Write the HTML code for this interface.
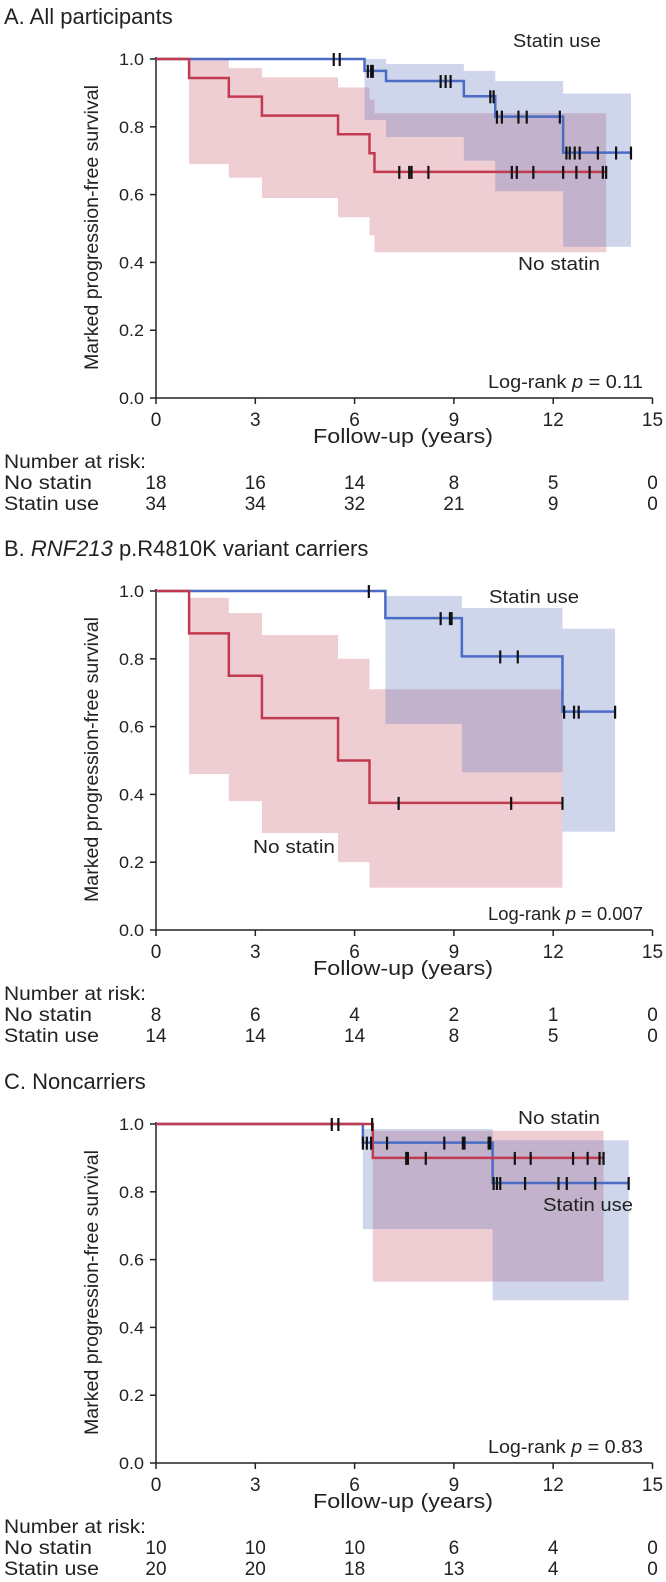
<!DOCTYPE html>
<html><head><meta charset="utf-8">
<style>
html,body{margin:0;padding:0;background:#fff;}
svg{display:block;font-family:"Liberation Sans",sans-serif;}
</style></head>
<body>
<svg id="fig" width="666" height="1582" viewBox="0 0 666 1582" xmlns="http://www.w3.org/2000/svg"></svg>
<script>
// ---------- Panel A data ----------
const aNoT=[0,1.0,2.2,3.2,5.5,6.45,6.6];
const aNoS=[1,0.944,0.889,0.833,0.778,0.722,0.667];
const aNoLo=[1,0.69,0.65,0.59,0.533,0.48,0.43];
const aNoHi=[1,1.0,0.973,0.946,0.916,0.88,0.84];
const aNoEnd=13.6;
const aNoCens=[7.35,7.65,7.72,8.23,10.75,10.9,11.4,12.3,12.7,13.1,13.5,13.6];
const aStT=[0,6.3,6.95,9.3,10.25,12.3];
const aStS=[1,0.965,0.935,0.89,0.83,0.724];
const aStLo=[1,0.82,0.77,0.70,0.61,0.446];
const aStHi=[1,1.0,0.985,0.965,0.935,0.898];
const aStEnd=14.35;
const aStCens=[5.37,5.55,6.4,6.5,6.55,8.6,8.75,8.9,10.1,10.2,10.3,10.45,10.95,11.2,12.2,12.4,12.5,12.65,12.8,13.35,13.9,14.35];
const aRiskNo=[18,16,14,8,5,0];
const aRiskSt=[34,34,32,21,9,0];
// ---------- Panel B data ----------
const bNoT=[0,1.0,2.2,3.2,5.5,6.45];
const bNoS=[1,0.875,0.75,0.625,0.5,0.375];
const bNoLo=[1,0.46,0.38,0.286,0.2,0.125];
const bNoHi=[1,0.98,0.935,0.87,0.80,0.71];
const bNoEnd=12.28;
const bNoCens=[7.33,10.73,12.28];
const bStT=[0,6.93,9.24,12.28];
const bStS=[1,0.92,0.807,0.644];
const bStLo=[1,0.608,0.465,0.29];
const bStHi=[1,0.985,0.95,0.889];
const bStEnd=13.87;
const bStCens=[6.43,8.6,8.88,8.93,10.4,10.93,12.33,12.63,12.77,13.87];
const bRiskNo=[8,6,4,2,1,0];
const bRiskSt=[14,14,14,8,5,0];
// ---------- Panel C data ----------
const cNoT=[0,6.55];
const cNoS=[1,0.9];
const cNoLo=[1,0.535];
const cNoHi=[1,0.98];
const cNoEnd=13.52;
const cNoCens=[6.53,7.56,7.61,8.15,10.84,11.32,12.6,13.04,13.4,13.52];
const cStT=[0,6.25,10.17];
const cStS=[1,0.945,0.826];
const cStLo=[1,0.69,0.48];
const cStHi=[1,0.985,0.952];
const cStEnd=14.28;
const cStCens=[5.31,5.51,6.25,6.37,6.5,6.98,8.71,9.27,9.32,10.05,10.1,10.2,10.3,10.4,11.15,12.16,12.41,13.27,14.28];
const cRiskNo=[10,10,10,6,4,0];
const cRiskSt=[20,20,18,13,4,0];
const xTicks=[0,3,6,9,12,15];
const yTicks=[0,0.2,0.4,0.6,0.8,1.0];

const NS="http://www.w3.org/2000/svg";
const svg=document.getElementById('fig');
const X0=156, PX=33.1, H=339;
function mk(tag,attrs,parent){const e=document.createElementNS(NS,tag);for(const k in attrs)e.setAttribute(k,attrs[k]);(parent||svg).appendChild(e);return e;}
function txt(x,y,s,size,anchor,parent,len){const a={x:x,y:y,'font-size':size,'text-anchor':anchor||'start',fill:'#222'};if(len){a.textLength=len;a.lengthAdjust='spacingAndGlyphs';}const t=mk('text',a,parent);t.textContent=s;return t;}

function drawPanel(key,top,title,italicPart,T,S,Lo,Hi,End,Cens,T2,S2,Lo2,Hi2,End2,Cens2,riskNo,riskSt,pval,labels){
  const g=mk('g',{});
  
  
  const xs=t=>X0+t*PX;
  const ys=v=>top+(1-v)*H;
  const bottom=ys(0);
  const ti=mk('text',{x:4,y:top-35,'font-size':22,fill:'#222'},g);
  
  
  if(italicPart){
    const p1=mk('tspan',{},ti);p1.textContent=title[0];
    const p2=mk('tspan',{'font-style':'italic'},ti);p2.textContent=italicPart;
    const p3=mk('tspan',{},ti);p3.textContent=title[1];
  } else ti.textContent=title;
  function bands(Tv,Lv,Hv,EndV,color,name){
    for(let i=0;i<Tv.length;i++){
      if(Lv[i]>=1&&Hv[i]>=1)continue;
      const t1=(i+1<Tv.length)?Tv[i+1]:EndV;
      const r=mk('rect',{x:xs(Tv[i]),y:ys(Hv[i]),width:xs(t1)-xs(Tv[i]),height:ys(Lv[i])-ys(Hv[i]),fill:color,'fill-opacity':0.3},g);
      
      
    }
  }
  bands(T,Lo,Hi,End,'rgb(200,90,110)','no-statin');
  bands(T2,Lo2,Hi2,End2,'rgb(95,115,190)','statin');
  const ax=mk('path',{d:`M${X0},${top-2}V${bottom}H${xs(15)}`,stroke:'#222','stroke-width':1.5,fill:'none'},g);
  
  
  yTicks.forEach(v=>{
    mk('line',{x1:X0-6,x2:X0,y1:ys(v),y2:ys(v),stroke:'#222','stroke-width':1.5},g);
    const l=txt(X0-12,ys(v)+6,v.toFixed(1),17,'end',g,25);
    
    
  });
  xTicks.forEach(v=>{
    mk('line',{x1:xs(v),x2:xs(v),y1:bottom,y2:bottom+6,stroke:'#222','stroke-width':1.5},g);
    const l=txt(xs(v),bottom+28,String(v),19,'middle',g);
    
    
  });
  const yl=txt(0,0,'Marked progression-free survival',19,'middle',g,285);
  yl.setAttribute('transform',`translate(98,${top+H/2-1}) rotate(-90)`);
  
  
  const xl=txt(403,bottom+45,'Follow-up (years)',20,'middle',g,180);
  
  
  function curve(Tv,Sv,EndV,color,name){
    let d=`M${xs(0)},${ys(1)}`;
    for(let i=1;i<Tv.length;i++){d+=`H${xs(Tv[i])}V${ys(Sv[i])}`;}
    d+=`H${xs(EndV)}`;
    const p=mk('path',{d:d,stroke:color,'stroke-width':2.5,fill:'none'},g);
    
    
  }
  function survAt(Tv,Sv,t){let s=1;for(let i=0;i<Tv.length;i++){if(Tv[i]<=t)s=Sv[i];}return s;}
  function cens(Tv,Sv,Cv,name){
    Cv.forEach(t=>{
      const y=ys(survAt(Tv,Sv,t));
      const c=mk('line',{x1:xs(t),x2:xs(t),y1:y-6,y2:y+7,stroke:'#111','stroke-width':2.2},g);
      
      
    });
  }
  curve(T2,S2,End2,'#4a6cc4','statin');
  curve(T,S,End,'#c23a50','no-statin');
  cens(T2,S2,Cens2,'statin');
  cens(T,S,Cens,'no-statin');
  labels.forEach(l=>{
    const e=txt(l[1],l[2],l[0],18,'start',g,l[3]);
    
    
  });
  const pv=mk('text',{x:643,y:bottom-10,'font-size':18,'text-anchor':'end',fill:'#222',textLength:155,lengthAdjust:'spacingAndGlyphs'},g);
  
  
  const q1=mk('tspan',{},pv);q1.textContent='Log-rank ';
  const q2=mk('tspan',{'font-style':'italic'},pv);q2.textContent='p';
  const q3=mk('tspan',{},pv);q3.textContent=' = '+pval;
  const r0=txt(4,bottom+70,'Number at risk:',19,'start',g,142);
  
  
  const r1=txt(4,bottom+91,'No statin',19,'start',g,88);
  
  
  const r2=txt(4,bottom+112,'Statin use',19,'start',g,95);
  
  
  xTicks.forEach((v,i)=>{
    const a=txt(xs(v),bottom+91,String(riskNo[i]),19,'middle',g);
    
    
    const b=txt(xs(v),bottom+112,String(riskSt[i]),19,'middle',g);
    
    
  });
}

drawPanel('a',59,'A. All participants',null,aNoT,aNoS,aNoLo,aNoHi,aNoEnd,aNoCens,aStT,aStS,aStLo,aStHi,aStEnd,aStCens,aRiskNo,aRiskSt,'0.11',
  [['Statin use',513,47,88],['No statin',518,270,82]]);
drawPanel('b',591,['B. ',' p.R4810K variant carriers'],'RNF213',bNoT,bNoS,bNoLo,bNoHi,bNoEnd,bNoCens,bStT,bStS,bStLo,bStHi,bStEnd,bStCens,bRiskNo,bRiskSt,'0.007',
  [['Statin use',489,603,90],['No statin',253,853,82]]);
drawPanel('c',1124,'C. Noncarriers',null,cNoT,cNoS,cNoLo,cNoHi,cNoEnd,cNoCens,cStT,cStS,cStLo,cStHi,cStEnd,cStCens,cRiskNo,cRiskSt,'0.83',
  [['No statin',518,1124,82],['Statin use',543,1211,90]]);
</script>
</body></html>
